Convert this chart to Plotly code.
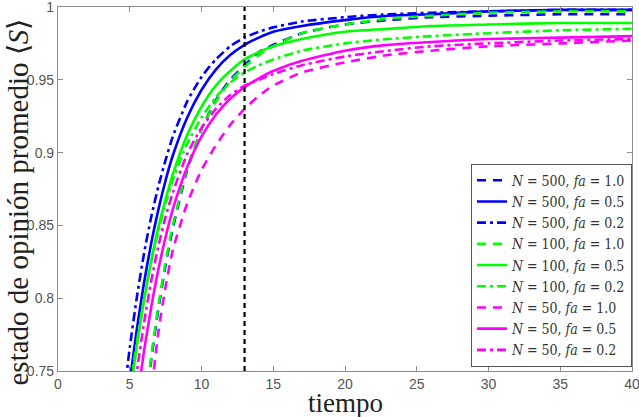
import plotly.graph_objects as go

# --- data ---------------------------------------------------------------
x_grid = [4, 4.5, 5, 5.5, 6, 6.5, 7, 7.5, 8, 9, 10, 11, 12, 13, 14, 15, 17, 20, 23, 26, 30, 35, 40]

s_N500_fa10 = [0.49, 0.55, 0.607, 0.666, 0.716, 0.758, 0.793, 0.823, 0.848, 0.888, 0.916, 0.936, 0.950, 0.960, 0.969, 0.974, 0.982, 0.988, 0.991, 0.993, 0.994, 0.995, 0.995]
s_N500_fa05 = [0.646, 0.698, 0.742, 0.779, 0.811, 0.838, 0.861, 0.881, 0.898, 0.924, 0.943, 0.957, 0.967, 0.974, 0.979, 0.983, 0.987, 0.991, 0.994, 0.995, 0.997, 0.998, 0.998]
s_N500_fa02 = [0.675, 0.724, 0.766, 0.801, 0.831, 0.856, 0.877, 0.895, 0.911, 0.935, 0.952, 0.964, 0.973, 0.979, 0.983, 0.986, 0.990, 0.993, 0.995, 0.996, 0.997, 0.998, 0.998]
s_N100_fa10 = [0.49, 0.55, 0.607, 0.666, 0.718, 0.760, 0.795, 0.825, 0.850, 0.889, 0.916, 0.935, 0.949, 0.959, 0.967, 0.973, 0.982, 0.988, 0.992, 0.994, 0.996, 0.997, 0.997]
s_N100_fa05 = [0.638, 0.688, 0.731, 0.768, 0.799, 0.826, 0.849, 0.868, 0.885, 0.912, 0.9315, 0.946, 0.956, 0.964, 0.969, 0.973, 0.978, 0.983, 0.985, 0.987, 0.988, 0.989, 0.989]
s_N100_fa02 = [0.648, 0.695, 0.736, 0.770, 0.7995, 0.825, 0.846, 0.865, 0.881, 0.906, 0.924, 0.938, 0.948, 0.955, 0.960, 0.964, 0.970, 0.975, 0.978, 0.980, 0.982, 0.984, 0.985]
s_N50_fa10 = [0.50, 0.54, 0.57, 0.63, 0.69, 0.735, 0.777, 0.808, 0.833, 0.865, 0.888, 0.905, 0.919, 0.930, 0.939, 0.946, 0.955, 0.962, 0.967, 0.970, 0.973, 0.975, 0.977]
s_N50_fa05 = [0.576, 0.635, 0.685, 0.728, 0.764, 0.794, 0.820, 0.842, 0.861, 0.890, 0.911, 0.926, 0.937, 0.945, 0.951, 0.956, 0.963, 0.970, 0.974, 0.976, 0.978, 0.979, 0.980]
s_N50_fa02 = [0.606, 0.663, 0.710, 0.750, 0.7835, 0.812, 0.836, 0.856, 0.8725, 0.899, 0.917, 0.930, 0.9395, 0.946, 0.950, 0.954, 0.960, 0.966, 0.970, 0.973, 0.975, 0.977, 0.978]

series_labels = [
    "<i>N</i> = 500, <i>fa</i> = 1.0",
    "<i>N</i> = 500, <i>fa</i> = 0.5",
    "<i>N</i> = 500, <i>fa</i> = 0.2",
    "<i>N</i> = 100, <i>fa</i> = 1.0",
    "<i>N</i> = 100, <i>fa</i> = 0.5",
    "<i>N</i> = 100, <i>fa</i> = 0.2",
    "<i>N</i> = 50, <i>fa</i> = 1.0",
    "<i>N</i> = 50, <i>fa</i> = 0.5",
    "<i>N</i> = 50, <i>fa</i> = 0.2",
]
series_values = [s_N500_fa10, s_N500_fa05, s_N500_fa02,
                 s_N100_fa10, s_N100_fa05, s_N100_fa02,
                 s_N50_fa10, s_N50_fa05, s_N50_fa02]

vline_x = 13
x_ticks = [0, 5, 10, 15, 20, 25, 30, 35, 40]
y_ticks = [0.75, 0.8, 0.85, 0.9, 0.95, 1]
x_title = "tiempo"
y_title = "estado de opinión promedio ⟨<i>S</i>⟩"

# --- styles -------------------------------------------------------------
colors = ["#0000FF"] * 3 + ["#00FF00"] * 3 + ["#FF00FF"] * 3
dashes = ["9px,7px", "solid", "9px,4px,3px,4px"] * 3

fig = go.Figure()
for lab, vals, c, d in zip(series_labels, series_values, colors, dashes):
    fig.add_trace(go.Scatter(
        x=x_grid, y=vals, mode="lines", name=lab,
        line=dict(color=c, width=2.6, dash=d, shape="spline", smoothing=0.6),
    ))

fig.add_trace(go.Scatter(
    x=[vline_x, vline_x], y=[y_ticks[0], y_ticks[-1]], mode="lines",
    line=dict(color="black", width=2.2, dash="5px,4px"), showlegend=False,
))

axis_common = dict(
    showgrid=False, zeroline=False, showline=True, linecolor="#8c8c8c", linewidth=1.2,
    mirror="ticks", ticks="inside", ticklen=5, tickcolor="#8c8c8c", automargin=False,
    ticklabeloverflow="allow",
    tickfont=dict(family="Liberation Sans, Arial", size=14, color="#555555"),
)

fig.update_layout(
    width=639, height=417,
    margin=dict(l=58, r=7, t=7, b=46),
    paper_bgcolor="white", plot_bgcolor="white",
    xaxis=dict(range=[0, 40], tickvals=x_ticks, **axis_common),
    yaxis=dict(range=[0.75, 1], tickvals=y_ticks, **axis_common),
    legend=dict(x=1.0, y=0.012, xanchor="right", yanchor="bottom",
                bgcolor="white", bordercolor="#555555", borderwidth=1,
                font=dict(family="DejaVu Serif Condensed, DejaVu Serif, serif", size=14, color="#333333"),
                tracegroupgap=0),
    showlegend=True,
    annotations=[
        dict(text=x_title, xref="paper", yref="paper", x=0.5, y=-0.089,
             xanchor="center", yanchor="middle", showarrow=False,
             font=dict(family="Liberation Serif, serif", size=27, color="#222222")),
        dict(text=y_title, xref="paper", yref="paper", x=-0.069, y=0.464,
             xanchor="center", yanchor="middle", textangle=-90, showarrow=False,
             font=dict(family="Liberation Serif, serif", size=29, color="#222222")),
    ],
)

fig.write_html(
    "out.html",
    config={"displayModeBar": False},
    post_script="document.body.style.margin='0';document.body.style.overflow='hidden';",
)
